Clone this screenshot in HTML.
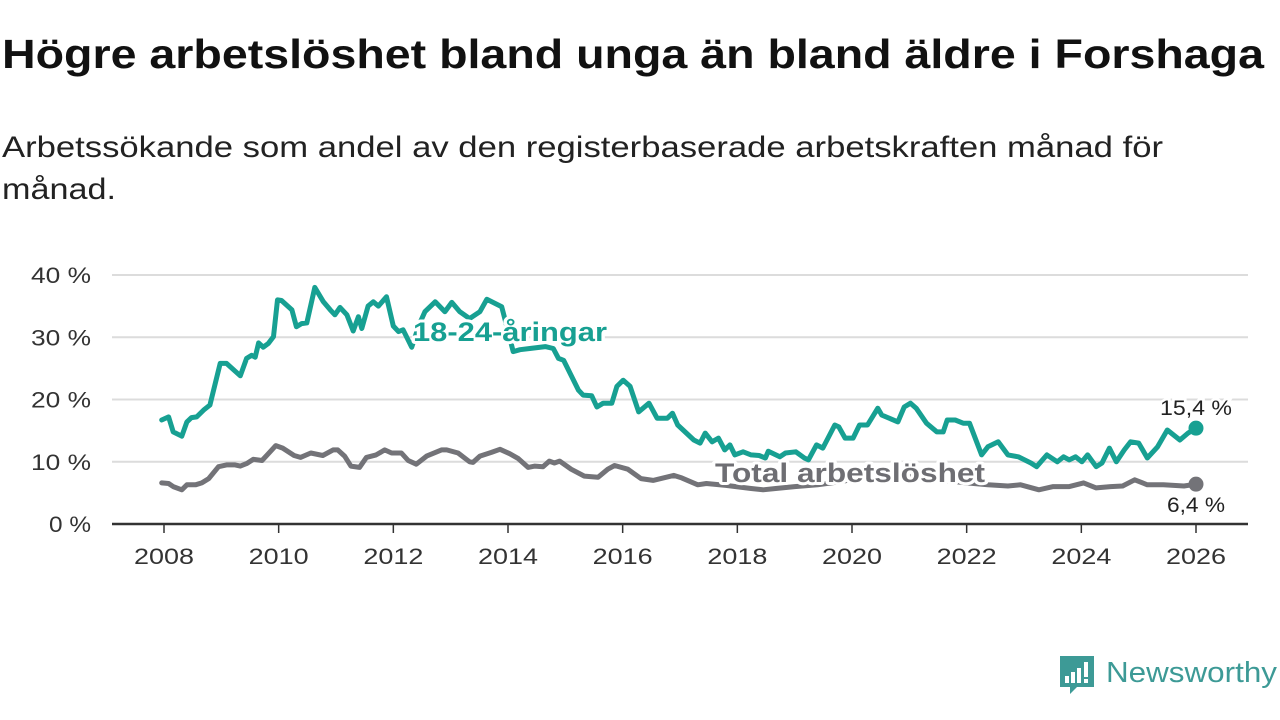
<!DOCTYPE html>
<html><head><meta charset="utf-8"><style>
html,body{margin:0;padding:0;background:#fff;}
svg{display:block;font-family:"Liberation Sans",sans-serif;}
</style></head><body>
<svg id="chart" width="1280" height="720" viewBox="0 0 1280 720" xmlns="http://www.w3.org/2000/svg">
<text x="2" y="68" font-size="41" font-weight="bold" fill="#111" textLength="1262" lengthAdjust="spacingAndGlyphs">Högre arbetslöshet bland unga än bland äldre i Forshaga</text>
<text font-size="30" fill="#222"><tspan x="2" y="157" textLength="1161" lengthAdjust="spacingAndGlyphs">Arbetssökande som andel av den registerbaserade arbetskraften månad för</tspan><tspan x="2" y="199" textLength="114" lengthAdjust="spacingAndGlyphs">månad.</tspan></text>
<g id="grid"></g>
<g id="yticks"></g>
<g id="xticks"></g>
<g id="series"></g>
<g id="labels"></g>
<g>
<path d="M1060 656 h34 v31 h-17 l-7 7 v-7 h-10 z" fill="#3d9a96"/>
<rect x="1065" y="676" width="4" height="7" fill="#fff"/>
<rect x="1071" y="672" width="4" height="11" fill="#fff"/>
<rect x="1077" y="668" width="4" height="15" fill="#fff"/>
<rect x="1084" y="662" width="4" height="15" fill="#fff"/>
<rect x="1084" y="679" width="4" height="4" fill="#fff"/>
<text x="1106" y="682" font-size="29" fill="#3d9a96" textLength="171" lengthAdjust="spacingAndGlyphs">Newsworthy</text>
</g>
</svg>
<script>
const yTickValues = [0, 10, 20, 30, 40];
const xTickYears = [2008, 2010, 2012, 2014, 2016, 2018, 2020, 2022, 2024, 2026];
const youthYears = [2007.96,2008.08,2008.16,2008.31,2008.40,2008.48,2008.57,2008.69,2008.80,2008.98,2009.09,2009.33,2009.44,2009.53,2009.59,2009.65,2009.73,2009.82,2009.91,2009.98,2010.05,2010.23,2010.31,2010.40,2010.49,2010.63,2010.78,2010.90,2010.98,2011.07,2011.19,2011.30,2011.39,2011.45,2011.56,2011.65,2011.74,2011.88,2012.00,2012.09,2012.17,2012.32,2012.45,2012.55,2012.73,2012.90,2013.02,2013.16,2013.33,2013.51,2013.63,2013.89,2014.00,2014.09,2014.21,2014.38,2014.65,2014.79,2014.88,2014.97,2015.23,2015.31,2015.46,2015.55,2015.66,2015.81,2015.90,2016.01,2016.13,2016.28,2016.46,2016.60,2016.78,2016.87,2016.96,2017.24,2017.35,2017.44,2017.56,2017.67,2017.78,2017.87,2017.955,2018.10,2018.24,2018.38,2018.49,2018.54,2018.74,2018.84,2019.02,2019.17,2019.24,2019.38,2019.49,2019.70,2019.77,2019.88,2020.02,2020.13,2020.27,2020.45,2020.52,2020.80,2020.91,2021.02,2021.12,2021.30,2021.48,2021.59,2021.66,2021.80,2021.94,2022.05,2022.26,2022.37,2022.55,2022.72,2022.90,2023.12,2023.22,2023.40,2023.58,2023.69,2023.79,2023.90,2024.01,2024.11,2024.26,2024.36,2024.49,2024.61,2024.75,2024.86,2025.00,2025.15,2025.33,2025.50,2025.72,2025.86,2026.00];
const youthValues = [16.7,17.2,14.8,14.1,16.4,17.1,17.2,18.3,19.1,25.8,25.8,23.8,26.6,27.1,26.8,29.1,28.4,29.0,30.1,36.0,35.9,34.4,31.7,32.2,32.3,38.0,35.7,34.4,33.6,34.8,33.6,31.0,33.3,31.4,35.0,35.7,35.0,36.5,31.8,30.9,31.2,28.4,32.0,34.1,35.7,34.1,35.6,34.1,33.0,34.1,36.1,34.9,31.0,27.7,28.0,28.2,28.5,28.2,26.6,26.3,21.5,20.7,20.6,18.8,19.4,19.4,22.1,23.1,22.1,18.0,19.4,17.0,17.0,17.8,15.9,13.5,13.0,14.6,13.2,13.8,11.9,12.7,11.1,11.6,11.1,11.0,10.6,11.7,10.8,11.4,11.6,10.6,10.3,12.7,12.2,15.9,15.6,13.8,13.8,15.9,15.9,18.6,17.5,16.4,18.8,19.4,18.6,16.2,14.8,14.8,16.7,16.7,16.2,16.2,11.1,12.4,13.2,11.1,10.8,9.8,9.2,11.1,10.0,10.8,10.3,10.8,10.0,11.1,9.2,9.8,12.2,10.0,11.9,13.2,13.0,10.6,12.4,15.1,13.5,14.6,15.4];
const totalYears = [2007.96,2008.08,2008.16,2008.31,2008.40,2008.55,2008.66,2008.78,2008.95,2009.09,2009.24,2009.33,2009.44,2009.56,2009.71,2009.80,2009.95,2010.07,2010.27,2010.38,2010.56,2010.77,2010.95,2011.03,2011.15,2011.26,2011.41,2011.53,2011.70,2011.85,2011.97,2012.14,2012.26,2012.40,2012.58,2012.84,2012.93,2013.13,2013.33,2013.39,2013.51,2013.71,2013.86,2014.03,2014.18,2014.35,2014.47,2014.61,2014.72,2014.81,2014.90,2015.10,2015.33,2015.57,2015.74,2015.86,2016.09,2016.32,2016.53,2016.89,2017.03,2017.31,2017.46,2017.80,2018.24,2018.45,2018.67,2019.00,2019.40,2019.80,2020.20,2020.50,2020.90,2021.30,2021.70,2022.00,2022.37,2022.72,2022.94,2023.26,2023.51,2023.79,2024.04,2024.26,2024.51,2024.72,2024.93,2025.15,2025.43,2025.79,2026.00];
const totalValues = [6.6,6.5,6.0,5.5,6.3,6.3,6.6,7.3,9.2,9.5,9.5,9.3,9.7,10.4,10.2,11.1,12.6,12.2,11.0,10.7,11.4,11.0,11.9,11.9,10.9,9.3,9.1,10.7,11.1,11.9,11.4,11.4,10.2,9.6,10.9,11.9,11.9,11.4,10.0,9.9,10.9,11.5,12.0,11.3,10.5,9.1,9.3,9.2,10.1,9.8,10.1,8.8,7.7,7.5,8.8,9.4,8.8,7.3,7.0,7.8,7.4,6.3,6.5,6.2,5.7,5.5,5.7,6.0,6.3,6.8,7.5,8.0,7.8,7.2,6.9,6.6,6.3,6.1,6.3,5.5,6.0,6.0,6.6,5.8,6.0,6.1,7.1,6.3,6.3,6.1,6.4];

const NS = "http://www.w3.org/2000/svg";
const xScale = y => 164 + (y - 2008) * (1196 - 164) / 18;
const yScale = v => 524 - v * (524 - 275) / 40;
function mk(tag, attrs, parent) {
  const el = document.createElementNS(NS, tag);
  for (const k in attrs) el.setAttribute(k, attrs[k]);
  parent.appendChild(el);
  return el;
}
const grid = document.getElementById('grid');
const yt = document.getElementById('yticks');
const xt = document.getElementById('xticks');
yTickValues.forEach(v => {
  if (v > 0) {
    const g = mk('line', {x1:112, x2:1248, y1:yScale(v), y2:yScale(v), stroke:'#dcdcdc', 'stroke-width':2}, grid);
    
    
  }
  const lbl = v + ' %';
  const t = mk('text', {x:91, y:yScale(v)+8, 'font-size':22, fill:'#333', 'text-anchor':'end', textLength: lbl.length === 4 ? 60 : 42, lengthAdjust:'spacingAndGlyphs'}, yt);
  
  
  t.textContent = lbl;
});
const axis = mk('line', {x1:112, x2:1248, y1:524, y2:524, stroke:'#333', 'stroke-width':2.5}, xt);


xTickYears.forEach(yr => {
  const tk = mk('line', {x1:xScale(yr), x2:xScale(yr), y1:525, y2:533, stroke:'#333', 'stroke-width':1.5}, xt);
  
  
  const t = mk('text', {x:xScale(yr), y:564, 'font-size':22, fill:'#333', 'text-anchor':'middle', textLength:60, lengthAdjust:'spacingAndGlyphs'}, xt);
  
  
  t.textContent = yr;
});
const ser = document.getElementById('series');
function line(xs, vs, color, name) {
  const d = xs.map((x,i) => (i?'L':'M') + xScale(x).toFixed(1) + ' ' + yScale(vs[i]).toFixed(1)).join(' ');
  const p = mk('path', {d:d, fill:'none', stroke:color, 'stroke-width':5, 'stroke-linejoin':'round', 'stroke-linecap':'round'}, ser);
  
  
  const n = xs.length - 1;
  const c = mk('circle', {cx:xScale(xs[n]), cy:yScale(vs[n]), r:7.5, fill:color}, ser);
  
  
}
line(totalYears, totalValues, '#737378', 'total');
line(youthYears, youthValues, '#17a092', 'youth');
const lab = document.getElementById('labels');
function label(txt, x, y, opts, name) {
  const t = mk('text', Object.assign({x:x, y:y}, opts), lab);
  
  
  t.textContent = txt;
}
label('18-24-åringar', 413, 341, {'font-size':27, 'font-weight':'bold', fill:'#17a092', textLength:194, lengthAdjust:'spacingAndGlyphs', stroke:'#fff', 'stroke-width':6, 'paint-order':'stroke', 'stroke-linejoin':'round'}, 'youth-series-label');
label('Total arbetslöshet', 715, 482, {'font-size':27, 'font-weight':'bold', fill:'#6e6e73', textLength:270, lengthAdjust:'spacingAndGlyphs', stroke:'#fff', 'stroke-width':6, 'paint-order':'stroke', 'stroke-linejoin':'round'}, 'total-series-label');
const nY = youthValues.length - 1, nT = totalValues.length - 1;
label(String(youthValues[nY]).replace('.', ',') + ' %', xScale(youthYears[nY]), yScale(youthValues[nY]) - 13, {'font-size':21, fill:'#222', 'text-anchor':'middle', textLength:72, lengthAdjust:'spacingAndGlyphs', stroke:'#fff', 'stroke-width':5, 'paint-order':'stroke'}, 'youth-end-value');
label(String(totalValues[nT]).replace('.', ',') + ' %', xScale(totalYears[nT]), yScale(totalValues[nT]) + 28, {'font-size':21, fill:'#222', 'text-anchor':'middle', textLength:58, lengthAdjust:'spacingAndGlyphs', stroke:'#fff', 'stroke-width':5, 'paint-order':'stroke'}, 'total-end-value');
</script>
</body></html>
